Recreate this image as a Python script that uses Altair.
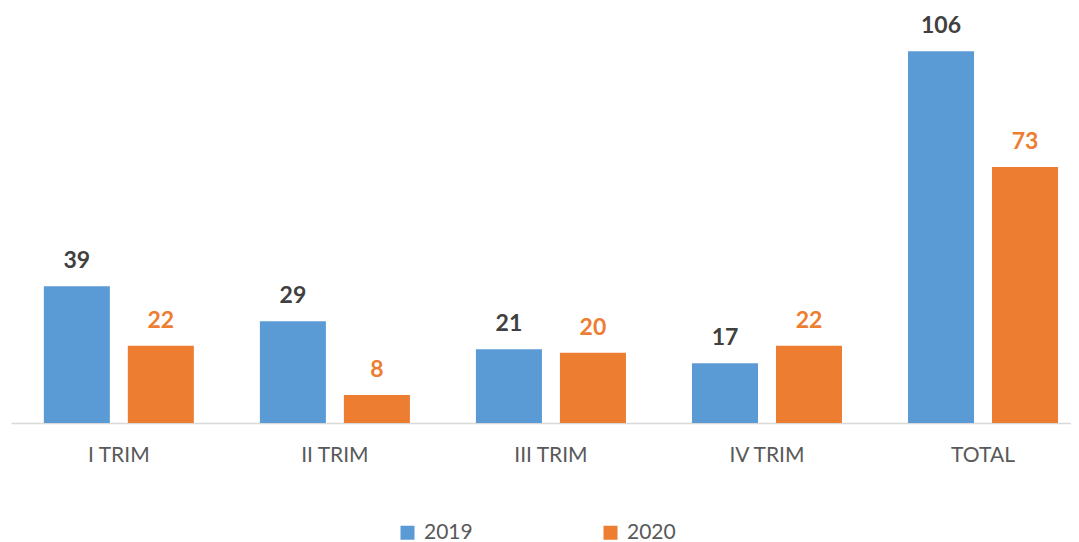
import altair as alt
import pandas as pd

categories = ["I TRIM", "II TRIM", "III TRIM", "IV TRIM", "TOTAL"]
years = ["2019", "2020"]
values_2019 = [39, 29, 21, 17, 106]
values_2020 = [22, 8, 20, 22, 73]

rows = []
for c, v in zip(categories, values_2019):
    rows.append({"cat": c, "year": "2019", "value": v})
for c, v in zip(categories, values_2020):
    rows.append({"cat": c, "year": "2020", "value": v})
df = pd.DataFrame(rows)

FONT = "Lato"
x = alt.X("cat:N", sort=categories, title=None,
          scale=alt.Scale(paddingInner=0.3056, paddingOuter=0.106, align=0.717),
          axis=alt.Axis(labelAngle=0, labelFontSize=21, labelColor="#595959",
                        labelFont=FONT, ticks=False, domainColor="#D9D9D9",
                        domainWidth=1.5, labelPadding=21))
xo = alt.XOffset("year:N", sort=years, scale=alt.Scale(paddingInner=0.214, paddingOuter=0))
y = alt.Y("value:Q", title=None, scale=alt.Scale(domain=[0, 118.3], nice=False),
          axis=None)

bars = alt.Chart(df).mark_bar().encode(
    x=x, xOffset=xo, y=y,
    color=alt.Color("year:N", sort=years,
                    scale=alt.Scale(domain=years, range=["#5B9BD5", "#ED7D31"]),
                    legend=alt.Legend(title=None, orient="none", direction="horizontal",
                                      legendX=386, legendY=514, symbolType="square",
                                      symbolSize=196, symbolStrokeWidth=0,
                                      labelFontSize=21, labelFont=FONT,
                                      labelColor="#595959", labelOffset=6,
                                      columnPadding=127)),
)

labels = alt.Chart(df).mark_text(fontSize=23, fontWeight="bold", font=FONT,
                                 baseline="alphabetic", dy=-18).encode(
    x=x, xOffset=xo, y=y,
    text=alt.Text("value:Q"),
    color=alt.condition(alt.datum.year == "2019", alt.value("#404040"), alt.value("#ED7D31")),
)

chart = alt.layer(bars, labels).properties(
    width=1060, height=415,
    autosize=alt.AutoSizeParams(type="none"),
    padding={"left": 3, "top": 0, "right": 0, "bottom": 119},
).configure_view(stroke=None)

chart.save("out.html", embed_options={"renderer": "svg", "actions": False})
